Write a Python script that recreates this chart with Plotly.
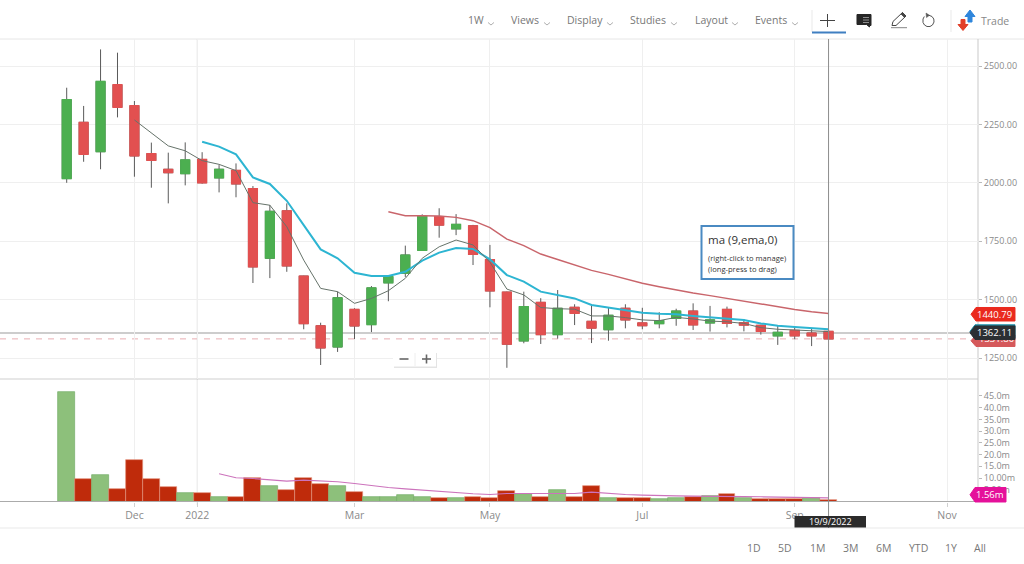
import pandas as pd
import plotly.graph_objects as go

W, H = 1024, 564

start_week = "2021-11-08"
open_ = [2018,2259,2133,2420,2330,2125,2058,2039,2100,2021,2053,1975,1677,1880,1601,1388,1297,1458,1393,1572,1613,1711,1855,1803,1816,1671,1532,1323,1488,1350,1467,1407,1371,1463,1400,1397,1420,1451,1400,1458,1401,1390,1345,1368,1357,1364]
high  = [2407,2329,2571,2557,2350,2172,2129,2173,2131,2076,2083,1986,1905,1912,1602,1401,1534,1463,1558,1605,1731,1865,1891,1866,1820,1734,1534,1534,1506,1541,1480,1481,1467,1480,1465,1446,1461,1484,1473,1470,1417,1392,1391,1381,1377,1373]
low   = [2000,2090,2058,2280,2026,1979,1912,1989,1996,1959,1938,1571,1592,1619,1373,1220,1276,1331,1361,1493,1597,1711,1765,1776,1648,1467,1208,1313,1310,1333,1391,1314,1324,1377,1373,1377,1388,1370,1363,1381,1364,1350,1306,1330,1301,1330]
close = [2356,2122,2434,2323,2115,2096,2043,2098,2000,2058,1995,1640,1878,1644,1397,1293,1508,1387,1550,1598,1691,1857,1819,1822,1694,1537,1309,1470,1350,1463,1441,1378,1433,1413,1388,1410,1451,1392,1413,1398,1391,1364,1360,1345,1345,1331.8]

fast_line = [2269,2212,2158,2137,2095,2079,2052,1915,1904,1812,1669,1548,1534,1484,1505,1538,1591,1677,1726,1755,1734,1660,1545,1520,1466,1461,1459,1430,1430,1423,1413,1410,1424,1417,1408,1405,1398,1380,1373,1370,1367,1363]
ema_line = [2176,2155,2122,2023,1995,1923,1819,1715,1677,1615,1601,1601,1619,1667,1701,1721,1717,1672,1605,1577,1534,1520,1505,1477,1467,1456,1444,1439,1437,1430,1424,1420,1413,1398,1388,1383,1378,1373]
slow_line = [1876,1859,1859,1858,1852,1838,1808,1759,1731,1695,1672,1649,1625,1608,1588,1570,1555,1540,1528,1517,1505,1493,1480,1468,1458,1448,1440.79]

volume = [46.9,9.7,11.1,5.3,17.5,9.7,6.3,3.8,3.7,2.1,1.8,10,6.8,4.7,10.1,7.4,6.8,4.1,2.1,2.1,2.6,2.1,1.4,1.4,1.8,1.4,4.4,3.1,2.1,4.8,2.1,6.7,1.6,1.3,1.3,0.9,1.6,2.1,2.3,3,1.6,0.9,0.9,0.9,1.7,0.6]
volume_up = [1,0,1,0,0,0,0,1,0,1,0,0,1,0,0,0,1,0,1,1,1,1,0,1,0,0,0,1,0,1,0,0,1,0,0,1,1,0,1,0,1,0,0,0,1,0]
volume_ma = [11.8,10.1,9.8,9.4,8.7,9.1,8.8,8.4,7.7,6.8,6,5.4,4.8,4.3,3.7,3.3,3,3.4,3.4,3.4,3.7,3.4,4,3.4,3,2.7,2.4,2.4,2.3,2.3,2.4,2.1,2,1.85,1.85,1.8,1.56]

price_ticks = [1250,1500,1750,2000,2250,2500]
price_labels = ["1250.00","1500.00","1750.00","2000.00","2250.00","2500.00"]
vol_ticks = [5,10,15,20,25,30,35,40,45]
vol_labels = ["5.00m","10.00m","15.0m","20.0m","25.0m","30.0m","35.0m","40.0m","45.0m"]
date_ticks = ["2021-12-06","2022-01-01","2022-03-07","2022-05-02","2022-07-04","2022-09-05","2022-11-07"]
date_labels = ["Dec","2022","Mar","May","Jul","Sep","Nov"]
last_price = 1362.11
last_close = 1331.8
toolbar = [("1W",476,491),("Views",525,547),("Display",585,610),("Studies",648,674),("Layout",711,735),("Events",771,795)]
ranges = [("1D",754),("5D",785),("1M",817),("3M",850),("6M",883),("YTD",918),("1Y",951),("All",980)]

dates = pd.date_range(start_week, periods=len(open_), freq="7D")
FONT = "Open Sans"
RED, GREEN = "#E25050", "#4CAF50"

px_per_day = 16.93 / 7
x0 = dates[0] - pd.Timedelta(days=66.7 / px_per_day)
x1 = x0 + pd.Timedelta(days=978 / px_per_day)
price_range = [2500 - (379 - 66) / 0.2336, 2500 + (66 - 39) / 0.2336]

fig = go.Figure()
# wicks beneath, bodies on top
fig.add_trace(go.Candlestick(x=dates, open=open_, high=high, low=low, close=close,
    increasing=dict(line=dict(color="#5a5a5a", width=1), fillcolor=GREEN),
    decreasing=dict(line=dict(color="#5a5a5a", width=1), fillcolor=RED),
    whiskerwidth=0, showlegend=False, hoverinfo="skip", xaxis="x", yaxis="y"))
fig.add_trace(go.Candlestick(x=dates, open=open_, close=close,
    high=[max(a, b) for a, b in zip(open_, close)], low=[min(a, b) for a, b in zip(open_, close)],
    increasing=dict(line=dict(color=GREEN, width=1.2), fillcolor=GREEN),
    decreasing=dict(line=dict(color=RED, width=1.2), fillcolor=RED),
    whiskerwidth=0, showlegend=False, hoverinfo="skip", xaxis="x", yaxis="y"))
fig.add_trace(go.Scatter(x=dates[-len(slow_line):], y=slow_line, mode="lines", line=dict(color="#C9656B", width=1.5), showlegend=False, hoverinfo="skip"))
fig.add_trace(go.Scatter(x=dates[-len(ema_line):], y=ema_line, mode="lines", line=dict(color="#2DB5D2", width=2), showlegend=False, hoverinfo="skip"))
fig.add_trace(go.Scatter(x=dates[-len(fast_line):], y=fast_line, mode="lines", line=dict(color="#66736A", width=1), showlegend=False, hoverinfo="skip"))
# carries the last-close label, which the last-price tag partly covers
fig.add_trace(go.Scatter(x=[dates[-1]], y=[last_close], mode="none", showlegend=False, hoverinfo="skip", xaxis="x", yaxis="y3"))

fig.add_trace(go.Bar(x=dates, y=volume, width=7 * 86400000,
    marker=dict(color=["#8DC07B" if u else "#BF2B0B" for u in volume_up],
                line=dict(color=["#74AE68" if u else "#E08E78" for u in volume_up], width=0.7)),
    showlegend=False, hoverinfo="skip", xaxis="x2", yaxis="y2"))
fig.add_trace(go.Scatter(x=dates[-len(volume_ma):], y=volume_ma, mode="lines", line=dict(color="#CC73BC", width=1.1),
    showlegend=False, hoverinfo="skip", xaxis="x2", yaxis="y2"))


def fx(p): return p / W
def fy(p): return 1 - p / H

shapes, annos = [], []

def pline(xa, ya, xb, yb, color, width=1, dash=None, layer="above"):
    shapes.append(dict(type="line", xref="paper", yref="paper", x0=fx(xa), x1=fx(xb), y0=fy(ya), y1=fy(yb),
                       line=dict(color=color, width=width, dash=dash or "solid"), layer=layer))

def prect(xa, ya, xb, yb, fill, line=None, width=0, layer="above"):
    shapes.append(dict(type="rect", xref="paper", yref="paper", x0=fx(xa), x1=fx(xb), y0=fy(ya), y1=fy(yb),
                       fillcolor=fill, line=dict(color=line or fill, width=width), layer=layer))

def ppath(points, fill=None, line=None, width=1, close=True, layer="above"):
    d = "M " + " L ".join(f"{fx(a):.5f},{fy(b):.5f}" for a, b in points) + (" Z" if close else "")
    shapes.append(dict(type="path", xref="paper", yref="paper", path=d, fillcolor=fill or "rgba(0,0,0,0)",
                       line=dict(color=line or "rgba(0,0,0,0)", width=width), layer=layer))

def text(s, x, y, size=11, color="#777777", anchor="center"):
    annos.append(dict(text=s, xref="paper", yref="paper", x=fx(x), y=fy(y), xanchor=anchor, yanchor="middle",
                      showarrow=False, font=dict(family=FONT, size=size, color=color), borderpad=0))

def tag_shape(xtip, xb, ya, yb, fill, layer="above"):
    ym = (ya + yb) / 2
    ppath([(xtip, ym), (xtip + 5, ya), (xb, ya), (xb, yb), (xtip + 5, yb)], fill=fill, line=fill, layer=layer)

def tag(xtip, xb, ya, yb, fill, label, tx, size=9.5):
    tag_shape(xtip, xb, ya, yb, fill)
    text(label, tx, (ya + yb) / 2, size=size, color="#ffffff")

# frame lines
pline(0, 39, 1024, 39, "#E6E6E6", layer="below")
pline(0, 379, 978, 379, "#CFCFCF", layer="below")
pline(0, 528, 1024, 528, "#E9E9E9", layer="below")
pline(0, 501.5, 978, 501.5, "#ABABAB", layer="above")
pline(978, 39, 978, 502, "#C9C9C9", layer="below")

# 2022 divider, last price, last close, crosshair (in data coordinates)
shapes.append(dict(type="line", xref="x", yref="paper", x0=date_ticks[1], x1=date_ticks[1], y0=fy(39), y1=fy(505),
                   line=dict(color="#D4D4D4", width=1), layer="below"))
shapes.append(dict(type="line", xref="paper", yref="y", x0=0, x1=fx(972), y0=last_price - 5, y1=last_price - 5,
                   line=dict(color="#BDBDBD", width=1.5), layer="below"))
shapes.append(dict(type="line", xref="paper", yref="y", x0=0, x1=fx(972), y0=last_close, y1=last_close,
                   line=dict(color="#E8AEB2", width=1, dash="6px,6px"), layer="below"))
shapes.append(dict(type="line", xref="x", yref="paper", x0=dates[-1], x1=dates[-1], y0=fy(39), y1=fy(528),
                   line=dict(color="#8C8C8C", width=1), layer="above"))

# price tags
tag_shape(971, 1015, 335, 346.5, "#D5595B", layer="below")
tag(971, 1015, 307.5, 321, "#EA2A1E", "1440.79", 994.5)
tag_shape(970, 1015, 324.8, 338, "#1F8FA8")
tag(970, 1015, 326, 339.5, "#2B2F33", "1362.11", 994.5)
tag(970, 1006, 487.5, 502, "#E5119A", "1.56m", 990)

# date tag
prect(794.5, 516, 866, 527.5, "#2B2B2B")
text("19/9/2022", 830, 521.8, size=9, color="#ffffff")

# study box
prect(701.5, 226, 793.5, 279, "#ffffff", "#4A8AC2", 2)
text("ma (9,ema,0)", 707, 240, size=11.5, color="#333333", anchor="left")
text("(right-click to manage)", 707, 257.5, size=7.6, color="#333333", anchor="left")
text("(long-press to drag)", 707, 269, size=7.6, color="#333333", anchor="left")

# zoom control
prect(394, 353, 437, 368, "#E4E4E4")
prect(393, 352, 436, 366.5, "#FFFFFF")
pline(415, 353, 415, 366, "#EEEEEE", 1)
pline(399.5, 359, 408.5, 359, "#666666", 1.6)
pline(422, 359, 431, 359, "#666666", 1.6)
pline(426.5, 354.5, 426.5, 363.5, "#666666", 1.6)

# toolbar
for label, tx, cx in toolbar:
    text(label, tx, 20, size=10.5, color="#777777")
    ppath([(cx - 3, 22.5), (cx, 25), (cx + 3, 22.5)], line="#999999", width=0.8, close=False)
pline(812, 10, 812, 32, "#E9E9E9")
pline(951, 10, 951, 32, "#E9E9E9")
pline(812, 32.5, 846, 32.5, "#3F7FC1", 2)
pline(820, 20.5, 835, 20.5, "#444444", 1)
pline(827.5, 14, 827.5, 27, "#444444", 1)
# note icon
ppath([(857, 14.5), (871, 14.5), (871, 25.5), (869.5, 25.5), (869.5, 27), (866.5, 24.5), (857, 24.5)], fill="#262626", line="#262626")
for yy in (17.5, 20, 22.5):
    pline(863, yy, 869, yy, "#bbbbbb", 0.7)
# pencil icon
ppath([(892, 25.5), (893, 21.5), (902.5, 12.5), (906, 16), (896, 25.5)], line="#444444", width=1)
ppath([(901, 14), (902.5, 12.5), (906, 16), (904.5, 17.5)], fill="#444444", line="#444444", width=0.8)
pline(891, 27.7, 907, 27.7, "#666666", 0.8)
# reload icon
ppath([(924.3, 16.5), (923, 19), (923, 22.5), (924.5, 25), (927, 26.5), (930, 26.5), (932.5, 25), (934, 22), (933.8, 19), (932, 16.5), (929, 15.3)],
      line="#555555", width=1, close=False)
ppath([(926, 13), (929.5, 15.3), (926.5, 17.6)], fill="#555555", line="#555555", width=0.5)
# trade arrows
ppath([(970, 10), (975, 16.5), (972, 16.5), (972, 22), (968, 22), (968, 16.5), (965, 16.5)], fill="#2F86DC", line="#2F86DC")
ppath([(963, 30.5), (958, 24.5), (961, 24.5), (961, 19.5), (965, 19.5), (965, 24.5), (968, 24.5)], fill="#E2402A", line="#E2402A")
text("Trade", 995, 20.5, size=10.5, color="#888888")

# range buttons
for label, tx in ranges:
    text(label, tx, 547.5, size=10.5, color="#777777")

tick_font = dict(family=FONT, size=9, color="#8A8A8A")
fig.update_layout(
    width=W, height=H, margin=dict(l=0, r=0, t=0, b=0), paper_bgcolor="#ffffff", plot_bgcolor="#ffffff",
    showlegend=False, hovermode=False, boxmode="overlay", boxgap=0.24, bargap=0, dragmode=False,
    shapes=shapes, annotations=annos,
    xaxis=dict(domain=[0, 978 / W], range=[x0, x1], type="date", anchor="y", rangeslider=dict(visible=False),
               tickvals=date_ticks, ticktext=[""] * len(date_labels), showgrid=True, gridcolor="#EFEFEF", gridwidth=1,
               zeroline=False, showline=False, ticks=""),
    xaxis2=dict(domain=[0, 978 / W], range=[x0, x1], type="date", anchor="y2", rangeslider=dict(visible=False),
                tickvals=date_ticks, ticktext=date_labels, showgrid=True, gridcolor="#EFEFEF", gridwidth=1,
                zeroline=False, showline=False, ticks="outside", ticklen=4, tickcolor="#D0D0D0",
                tickfont=dict(family=FONT, size=10.5, color="#8A8A8A")),
    yaxis=dict(domain=[fy(379), fy(39)], range=price_range, side="right", anchor="x",
               tickvals=price_ticks, ticktext=price_labels, showgrid=True, gridcolor="#EFEFEF", zeroline=False,
               ticks="outside", ticklen=3, tickcolor="#BBBBBB", tickfont=tick_font, showline=False),
    yaxis2=dict(domain=[fy(501.5), fy(380)], range=[0, 121.5 / 2.345], side="right", anchor="x2",
                tickvals=vol_ticks, ticktext=vol_labels, showgrid=False, zeroline=False,
                ticks="outside", ticklen=3, tickcolor="#BBBBBB", tickfont=tick_font, showline=False),
    yaxis3=dict(domain=[fy(379), fy(39)], range=price_range, side="right", anchor="x", overlaying="y",
                tickvals=[last_close], ticktext=["1331.80"], showgrid=False, zeroline=False, ticks="",
                ticklabelposition="outside", tickfont=dict(family=FONT, size=9.5, color="#ffffff"), showline=False),
)

fig.write_html("out.html", config={"displayModeBar": False},
               post_script="document.body.style.margin='0';document.body.style.overflow='hidden';")
